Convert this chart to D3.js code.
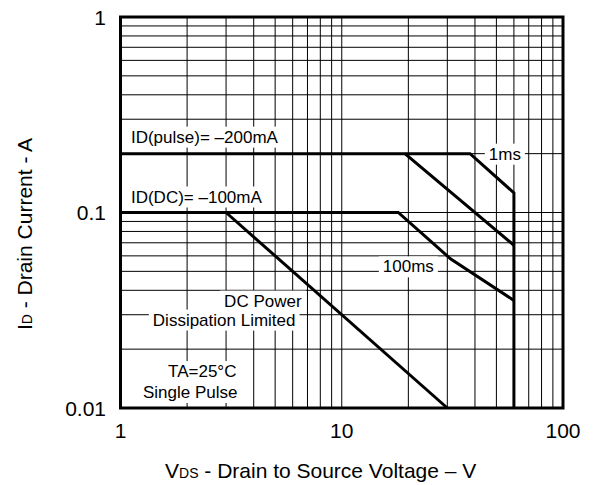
<!DOCTYPE html>
<html>
<head>
<meta charset="utf-8">
<script src="https://cdn.jsdelivr.net/npm/d3@7"></script>
<style>
  html, body { margin: 0; padding: 0; background: #fff; }
  svg { display: block; font-family: "Liberation Sans", Arial, sans-serif; }
</style>
</head>
<body>
<svg id="chart" width="594" height="485"></svg>
<script>
// ---- data ----
const xDomain = [1, 100];
const yDomain = [0.01, 1];
const xTickLabels = [1, 10, 100];
const yTickLabels = [0.01, 0.1, 1];

// safe operating area boundaries (V, A)
const pulse1ms = [[1, 0.2], [38, 0.2], [60, 0.126], [60, 0.01]];
const pulse10ms = [[19.3, 0.2], [60, 0.068]];
const dc100ms = [[1, 0.1], [18, 0.1], [31, 0.058], [60, 0.0355]];
const dcPower = [[3, 0.1], [30, 0.01]];
const curves = [pulse1ms, pulse10ms, dc100ms, dcPower];

const labels = [
  { text: "ID(pulse)= \u2013200mA", x: 1.115, y: 0.2, anchor: "start", dy: -11 },
  { text: "ID(DC)= \u2013100mA", x: 1.115, y: 0.1, anchor: "start", dy: -10 },
  { text: "1ms", x: 54.6, y: 0.2, anchor: "middle", dy: 6 },
  { text: "100ms", x: 20, y: 0.05, anchor: "middle", dy: 1 },
  { text: "DC Power", x: 2.94, y: 0.033, anchor: "start", dy: 0 },
  { text: "Dissipation Limited", x: 1.40, y: 0.0264, anchor: "start", dy: 0 },
  { text: "TA=25\u00b0C", x: 1.64, y: 0.0144, anchor: "start", dy: 0 },
  { text: "Single Pulse", x: 1.264, y: 0.01125, anchor: "start", dy: 0 }
];

// ---- layout ----
const svg = d3.select("#chart");
const pLeft = 120.5, pRight = 563, pTop = 17, pBottom = 408;
const x = d3.scaleLog().domain(xDomain).range([pLeft, pRight]);
const y = d3.scaleLog().domain(yDomain).range([pBottom, pTop]);

// grid
const grid = svg.append("g").attr("stroke", "#000").attr("stroke-width", 1);
x.ticks().filter(v => v > xDomain[0] && v < xDomain[1]).forEach(v => {
  grid.append("line").attr("x1", x(v)).attr("x2", x(v)).attr("y1", pTop).attr("y2", pBottom);
});
y.ticks().filter(v => v > yDomain[0] && v < yDomain[1]).forEach(v => {
  grid.append("line").attr("y1", y(v)).attr("y2", y(v)).attr("x1", pLeft).attr("x2", pRight);
});

// labels with white boxes
const labelG = svg.append("g");
const textG = svg.append("g").attr("font-size", 17).attr("fill", "#000");
labels.forEach(l => {
  const t = textG.append("text")
    .attr("x", x(l.x)).attr("y", y(l.y) + l.dy)
    .attr("text-anchor", l.anchor)
    .text(l.text);
  const b = t.node().getBBox();
  labelG.append("rect")
    .attr("x", b.x - 4).attr("y", b.y - 1)
    .attr("width", b.width + 8).attr("height", b.height + 2)
    .attr("fill", "#fff");
});

// curves
const line = d3.line().x(d => x(d[0])).y(d => y(d[1]));
svg.append("g").selectAll("path").data(curves).join("path")
  .attr("d", line)
  .attr("fill", "none").attr("stroke", "#000").attr("stroke-width", 3)
  .attr("stroke-linejoin", "miter");

// frame
svg.append("rect")
  .attr("x", pLeft).attr("y", pTop).attr("width", pRight - pLeft).attr("height", pBottom - pTop)
  .attr("fill", "none").attr("stroke", "#000").attr("stroke-width", 3);

textG.raise();

// tick labels
const fmt = v => String(v);
svg.append("g").attr("font-size", 21).selectAll("text").data(xTickLabels).join("text")
  .attr("x", d => x(d)).attr("y", 438).attr("text-anchor", "middle").text(fmt);
svg.append("g").attr("font-size", 21).selectAll("text").data(yTickLabels).join("text")
  .attr("x", 106).attr("y", d => y(d) + 7.5).attr("text-anchor", "end").text(fmt);

// axis titles
const xt = svg.append("text").attr("x", 165).attr("y", 478).attr("font-size", 21);
xt.append("tspan").text("V");
xt.append("tspan").attr("font-size", 14).text("DS");
xt.append("tspan").text(" - Drain to Source Voltage \u2013 V");

const yt = svg.append("text").attr("transform", "translate(32,234) rotate(-90)")
  .attr("text-anchor", "middle").attr("font-size", 21);
yt.append("tspan").text("I");
yt.append("tspan").attr("font-size", 14).text("D");
yt.append("tspan").text(" - Drain Current - A");
</script>
</body>
</html>
